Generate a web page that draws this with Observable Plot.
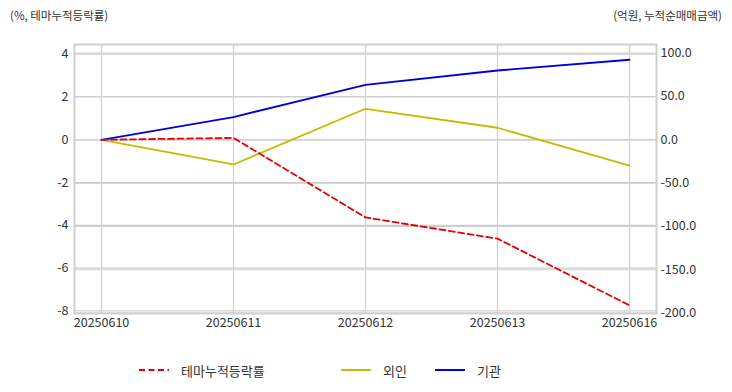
<!DOCTYPE html>
<html>
<head>
<meta charset="utf-8">
<script src="https://cdn.jsdelivr.net/npm/d3@7"></script>
<script src="https://cdn.jsdelivr.net/npm/@observablehq/plot@0.6"></script>
<style>
  html, body { margin: 0; padding: 0; background: #fff; }
  #wrap { position: relative; width: 732px; height: 392px; font-family: "Noto Sans CJK KR", "Noto Sans", sans-serif; color: #333; }
  .title { position: absolute; top: 7px; font-size: 11.5px; color: #333; white-space: nowrap; }
  #legend { position: absolute; top: 360px; left: 0; width: 732px; height: 20px; font-size: 13px; color: #333; }
  .item { position: absolute; top: 0; display: flex; align-items: center; height: 20px; }
  .item svg { margin-right: 12px; }
</style>
</head>
<body>
<div id="wrap">
  <div id="chart"></div>
  <div class="title" style="left:10px">(%, 테마누적등락률)</div>
  <div class="title" style="right:10px">(억원, 누적순매매금액)</div>
  <div id="legend"></div>
</div>
<script>
const dates = ["20250610", "20250611", "20250612", "20250613", "20250616"];
const themeReturn = [0, 0.09, -3.63, -4.62, -7.74];      // %, left axis
const foreign = [0, -28.5, 35.8, 13.9, -29.7];           // 억원, right axis
const institution = [0, 26.3, 63.5, 80.0, 92.4];        // 억원, right axis

const leftTicks = [4, 2, 0, -2, -4, -6, -8];
const rightTicks = [100, 50, 0, -50, -100, -150, -200];
const seriesNames = ["테마누적등락률", "외인", "기관"];
const seriesColors = ["#e60000", "#c4bc00", "#0000d8"];

const leftDomain = [-8.12, 4.455];
const rightDomain = [-200.5, 110];
const toLeft = v => leftDomain[0] + (v - rightDomain[0]) / (rightDomain[1] - rightDomain[0]) * (leftDomain[1] - leftDomain[0]);

const themeData = dates.map((d, i) => ({date: d, value: themeReturn[i]}));
const foreignData = dates.map((d, i) => ({date: d, value: toLeft(foreign[i])}));
const instData = dates.map((d, i) => ({date: d, value: toLeft(institution[i])}));

const grid = "#cfcfcf";
const chart = Plot.plot({
  width: 732,
  height: 392,
  marginTop: 44,
  marginBottom: 79,
  marginLeft: 74,
  marginRight: 76,
  style: {fontFamily: '"Noto Sans CJK KR", "Noto Sans", sans-serif', fontSize: "12px", color: "#333", background: "transparent"},
  x: {type: "point", domain: dates, padding: 0.2, align: 0.5, axis: null, label: null},
  y: {domain: leftDomain, axis: null, label: null},
  marks: [
    Plot.ruleX(dates, {stroke: grid, strokeWidth: 1.2}),
    Plot.ruleY(leftTicks, {stroke: grid, strokeWidth: 1.2}),
    Plot.ruleY(rightTicks.map(toLeft), {stroke: grid, strokeWidth: 1.2}),
    Plot.frame({stroke: grid, strokeWidth: 2}),
    Plot.axisY(leftTicks, {anchor: "left", label: null, tickSize: 0, tickPadding: 6, fontSize: 12.5, tickFormat: d => d < 0 ? "-" + Math.abs(d) : String(d)}),
    Plot.axisY(rightTicks.map(toLeft), {anchor: "right", label: null, tickSize: 0, tickPadding: 4, fontSize: 12.5,
      tickFormat: (d, i) => rightTicks[i].toFixed(1)}),
    Plot.axisX(dates, {anchor: "bottom", label: null, tickSize: 0, tickPadding: 5, fontSize: 12.5}),
    Plot.line(foreignData, {x: "date", y: "value", stroke: seriesColors[1], strokeWidth: 1.8}),
    Plot.line(instData, {x: "date", y: "value", stroke: seriesColors[2], strokeWidth: 1.8}),
    Plot.line(themeData, {x: "date", y: "value", stroke: seriesColors[0], strokeWidth: 1.8, strokeDasharray: "6,3.5"})
  ]
});
document.getElementById("chart").appendChild(chart);

const legend = document.getElementById("legend");
const positions = [139, 341, 435];
seriesNames.forEach((name, i) => {
  const item = document.createElement("div");
  item.className = "item";
  item.style.left = positions[i] + "px";
  const dash = i === 0 ? 'stroke-dasharray="6,3.5"' : "";
  item.innerHTML = `<svg width="30" height="10"><line x1="0" y1="5" x2="30" y2="5" stroke="${seriesColors[i]}" stroke-width="2" ${dash}/></svg><span>${name}</span>`;
  legend.appendChild(item);
});
</script>
</body>
</html>
